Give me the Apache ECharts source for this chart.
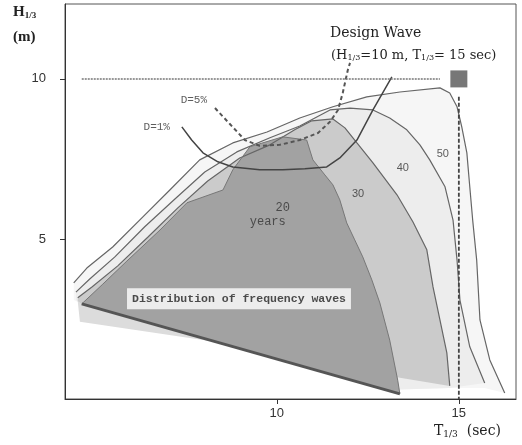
<!DOCTYPE html>
<html>
<head>
<meta charset="utf-8">
<script src="https://cdn.jsdelivr.net/npm/echarts@6/dist/echarts.min.js"></script>
<style>
  html, body { margin: 0; padding: 0; background: #fff; }
  #chart { width: 522px; height: 445px; }
</style>
</head>
<body>
<div id="chart"></div>
<script>
// ---- data (T1/3 in sec, H1/3 in m) ----
const xTicks = [10, 15];
const yTicks = [5, 10];

// region boundaries (outer envelope + right edge)
const line50 = [[4.42,3.63],[4.78,4.09],[5.49,4.75],[6.32,5.69],[7.06,6.53],[7.88,7.47],[8.79,8.00],[9.73,8.34],[10.63,8.78],[11.54,9.13],[12.47,9.44],[13.38,9.59],[14.48,9.72],[14.75,9.56],[14.95,9.13],[15.08,8.50],[15.22,7.69],[15.30,6.63],[15.38,5.59],[15.49,4.34],[15.58,2.47],[15.85,1.22],[16.26,0.19]];
const line40 = [[4.48,3.34],[4.86,3.75],[5.55,4.44],[6.37,5.38],[7.20,6.25],[8.02,7.09],[8.90,7.72],[9.81,8.16],[10.63,8.53],[11.46,9.03],[12.01,9.09],[12.64,9.03],[13.10,8.78],[13.57,8.41],[13.93,7.94],[14.20,7.47],[14.62,6.63],[14.84,5.59],[14.95,4.34],[15.03,3.09],[15.30,1.63],[15.71,0.50]];
const line30 = [[4.53,3.16],[4.92,3.50],[5.63,4.16],[6.46,5.06],[7.28,5.97],[8.10,6.81],[8.98,7.53],[9.81,7.94],[10.49,8.41],[10.96,8.69],[11.54,8.75],[11.87,8.47],[12.20,8.00],[12.64,7.38],[13.30,6.38],[13.74,5.53],[14.12,4.66],[14.29,3.50],[14.48,2.47],[14.67,1.44],[14.75,0.41]];
const line20 = [[4.64,2.97],[5.22,3.59],[5.88,4.31],[6.79,5.28],[7.53,6.13],[8.52,6.53],[8.79,7.16],[9.26,7.88],[10.16,8.19],[10.82,8.09],[10.99,7.47],[11.32,7.00],[11.54,6.69],[11.73,6.22],[11.92,5.50],[12.14,4.97],[12.36,4.44],[12.61,3.72],[12.83,3.00],[13.10,1.84],[13.32,0.59],[13.38,0.16]];
// lower closing of the shaded areas
const base50 = [[15.71,0.34],[14.75,0.34],[13.38,0.30],[4.64,2.97],[4.42,3.09]];
const base40 = [[14.75,0.34],[13.38,0.30],[4.64,2.97],[4.48,3.09]];
const base30 = [[13.38,0.66],[4.64,2.97],[4.53,3.05]];
const wedge = [[4.64,2.97],[8.30,1.79],[4.59,2.41],[4.53,3.05]];
const bottomLine = [[13.38,0.16],[4.64,2.97]];

// joint distribution lines
const d1 = [[7.39,8.50],[7.66,8.09],[7.97,7.69],[8.38,7.41],[8.79,7.25],[9.53,7.16],[10.16,7.16],[10.77,7.19],[11.37,7.25],[11.73,7.53],[12.20,8.09],[12.64,9.03],[13.16,10.06]];
const d5 = [[8.30,9.09],[8.71,8.59],[9.12,8.09],[9.53,7.91],[10.08,7.94],[10.63,8.09],[11.13,8.31],[11.46,8.66],[11.68,9.03],[11.81,9.56],[11.95,10.28],[12.01,10.50]];

// design wave
const designWave = [15, 10];
const designH = [[4.64,10],[14.48,10]];
const designT = [[15,9.44],[15,0]];

// in-plot labels
const labelTexts = ['20', 'years', '30', '40', '50', 'D=5%', 'D=1%'];
const labelPos = [[10.16,5.97],[9.75,5.53],[12.23,6.41],[13.46,7.22],[14.56,7.66],[7.72,9.34],[6.70,8.50]];
const boxText = 'Distribution of frequency waves';
const boxPos = [8.96, 3.13];

// ---- chart ----
const chart = echarts.init(document.getElementById('chart'));

// filled region drawn through the grid's coordinate system
function area(points, fill, z) {
  return {
    type: 'custom',
    silent: true,
    z: z,
    data: [[10, 5]],
    renderItem: function (params, api) {
      return {
        type: 'polygon',
        shape: { points: points.map(function (p) { return api.coord(p); }) },
        style: { fill: fill, stroke: null }
      };
    }
  };
}

function edge(points, color, width, type, z) {
  return {
    type: 'line',
    data: points,
    showSymbol: false,
    silent: true,
    z: z,
    lineStyle: { color: color, width: width, type: type }
  };
}

const monoFont = '"Liberation Mono", "DejaVu Sans Mono", monospace';
const labelFonts = [monoFont, monoFont, 'Liberation Sans', 'Liberation Sans', 'Liberation Sans', monoFont, monoFont];

const option = {
  animation: false,
  backgroundColor: '#fff',
  grid: { left: 65, right: 6, top: 4, bottom: 46, show: true, borderColor: '#555', borderWidth: 1 },
  xAxis: {
    type: 'value', min: 4.18, max: 16.57,
    axisLine: { lineStyle: { color: '#333' } },
    axisTick: { customValues: xTicks, length: 5, lineStyle: { color: '#333' } },
    axisLabel: { customValues: xTicks, margin: 8, color: '#333', fontSize: 13, fontFamily: 'Liberation Sans' },
    splitLine: { show: false }
  },
  yAxis: {
    type: 'value', min: 0, max: 12.34,
    axisLine: { lineStyle: { color: '#333' } },
    axisTick: { customValues: yTicks, length: 5, lineStyle: { color: '#333' } },
    axisLabel: { customValues: yTicks, margin: 19, color: '#333', fontSize: 13, fontFamily: 'Liberation Sans' },
    splitLine: { show: false }
  },
  graphic: [
    { type: 'text', left: 13, top: 5, style: { text: '{b|H}{s|1/3}', rich: { b: { font: 'bold 15px "Liberation Serif"', fill: '#222' }, s: { font: 'bold 9px "Liberation Serif"', fill: '#222', padding: [7, 0, 0, 0] } } } },
    { type: 'text', left: 13, top: 30, style: { text: '(m)', font: 'bold 15px "Liberation Serif"', fill: '#222' } },
    { type: 'text', left: 434, top: 424, style: { text: '{b|T}{s|1/3}{b|  (sec)}', rich: { b: { font: '14px "DejaVu Serif"', fill: '#222' }, s: { font: '9px "DejaVu Serif"', fill: '#222', padding: [7, 0, 0, 0] } } } },
    { type: 'text', left: 330, top: 26, style: { text: 'Design Wave', font: '14px "DejaVu Serif"', fill: '#222' } },
    { type: 'text', left: 331, top: 49, style: { text: '{b|(H}{s|1/3}{b|=10 m, T}{s|1/3}{b|= 15 sec)}', rich: { b: { font: '13px "DejaVu Serif"', fill: '#222' }, s: { font: '8px "DejaVu Serif"', fill: '#222', padding: [5, 0, 0, 0] } } } }
  ],
  series: [
    area(line50.concat(base50), '#f6f6f6', 1),
    area(line40.concat(base40), '#ededed', 2),
    area(wedge, '#dcdcdc', 2),
    area(line30.concat(base30), '#cbcbcb', 3),
    area(line20, '#a2a2a2', 4),
    edge(line50, '#666', 1.2, 'solid', 5),
    edge(line40, '#666', 1.2, 'solid', 5),
    edge(line30, '#666', 1.2, 'solid', 5),
    edge(line20, '#777', 1, 'solid', 5),
    edge(bottomLine, '#555', 3, 'solid', 6),
    edge(d1, '#444', 1.5, 'solid', 7),
    edge(d5, '#555', 2, [4, 3], 7),
    edge(designH, '#777', 1.5, [2, 1], 7),
    edge(designT, '#444', 1.8, [4, 2], 7),
    {
      type: 'scatter', z: 8, silent: true,
      symbol: 'rect', symbolSize: 17,
      itemStyle: { color: '#555' },
      data: [designWave]
    },
    {
      type: 'scatter', z: 9, silent: true, symbolSize: 0,
      data: labelTexts.map(function (t, i) {
        return {
          value: labelPos[i],
          label: { show: true, position: 'inside', formatter: t, color: '#333', fontSize: i < 2 ? 12 : 11, fontFamily: labelFonts[i] }
        };
      }).concat([{
        value: boxPos,
        label: {
          show: true, position: 'inside', formatter: boxText,
          color: '#222', fontSize: 11.5, fontWeight: 'bold', fontFamily: monoFont,
          backgroundColor: '#fff', padding: [5, 5, 4, 5]
        }
      }])
    }
  ]
};

chart.setOption(option);
window.addEventListener('resize', function () { chart.resize(); });
</script>
</body>
</html>
